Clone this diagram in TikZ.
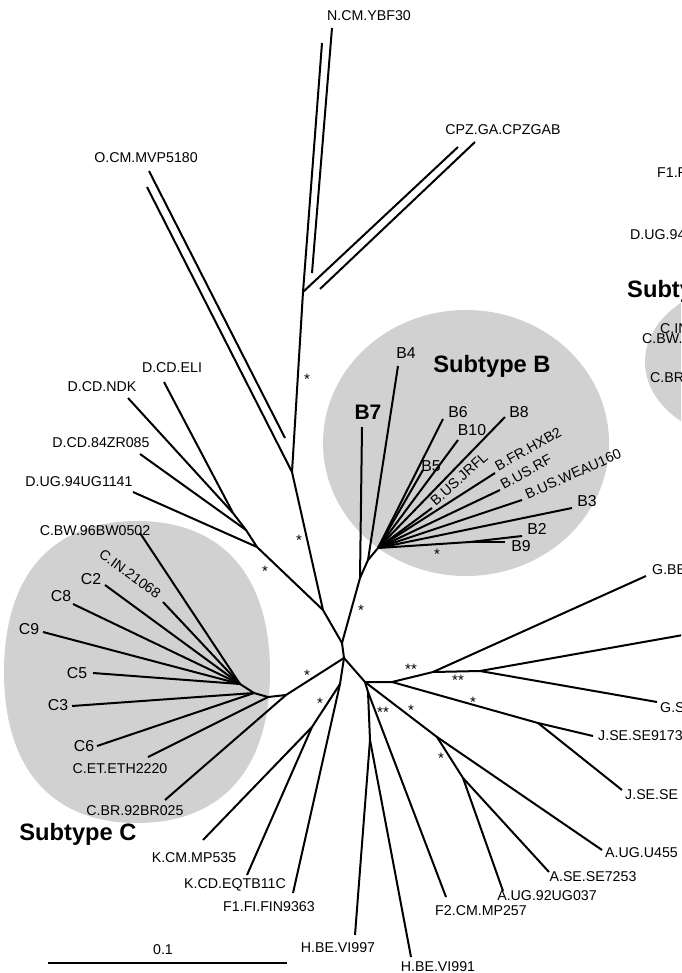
\documentclass[tikz,border=0pt]{standalone}
\usepackage{fontspec}
\setmainfont{Liberation Sans}
\begin{document}
\begin{tikzpicture}[x=1pt,y=-1pt,
  br/.style={line width=2pt, line join=round},
  lbl/.style={inner sep=0pt, font=\fontsize{14.2}{14.2}\selectfont},
  lbm/.style={inner sep=0pt, font=\fontsize{15.8}{15.8}\selectfont},
  big/.style={inner sep=0pt, font=\bfseries\fontsize{23.7}{23.7}\selectfont},
  ast/.style={inner sep=0pt, anchor=base, yshift=-8.5pt, font=\fontsize{15}{15}\selectfont},
  blob/.style={fill=black!18}]
\clip (0,0) rectangle (681,973);
\fill[white] (0,0) rectangle (681,973);
% shaded groups
\fill[blob] (466,443) ellipse [x radius=143, y radius=133];
\fill[blob] (270,672) .. controls (270,575.4) and (222.1,521) .. (137,521)
  .. controls (51.9,521) and (4,575.4) .. (4,672)
  .. controls (4,768.6) and (51.9,823) .. (137,823)
  .. controls (222.1,823) and (270,768.6) .. (270,672) -- cycle;
\fill[blob] (755,362) ellipse [x radius=110, y radius=80];

% ---------- inner nodes ----------
\coordinate (N3) at (344,658);
\coordinate (N2) at (342,643);
\coordinate (N1) at (323,610);
\coordinate (Tup) at (292,472);
\coordinate (Tn) at (303,292);
\coordinate (D3) at (257,547);
\coordinate (D2) at (246,530);
\coordinate (D1) at (233,513);
\coordinate (Bn1) at (360,578);
\coordinate (Bn2) at (368,560);
\coordinate (Bf) at (378,548);
\coordinate (Bb) at (470,542);
\coordinate (S) at (286,695);
\coordinate (Cc) at (268,697);
\coordinate (Cd) at (254,693);
\coordinate (Ce) at (240,684);
\coordinate (N4) at (340,684);
\coordinate (Kn) at (312,727);
\coordinate (R1) at (365,682);
\coordinate (R2) at (392,682);
\coordinate (G1) at (433,672);
\coordinate (G2) at (480,671);
\coordinate (Jn) at (538,723);
\coordinate (An) at (437,737);
\coordinate (A2) at (463,778);
\coordinate (R3) at (368,692);
\coordinate (Hn) at (370,740);

% ---------- tips ----------
\coordinate (tO) at (147,187);
\coordinate (tOa) at (149,171); \coordinate (tOb) at (285,438);
\coordinate (tN) at (322,43);
\coordinate (tNa) at (332,28); \coordinate (tNb) at (312,273);
\coordinate (tP) at (458,147);
\coordinate (tPa) at (475,142); \coordinate (tPb) at (320,289);
\coordinate (tELI) at (164,382);
\coordinate (tNDK) at (128,398);
\coordinate (t84) at (140,454);
\coordinate (t94) at (133,492);
\coordinate (tB7) at (362,427);
\coordinate (tB4) at (398,366);
\coordinate (tB6) at (443,419);
\coordinate (tB10) at (458,440);
\coordinate (tB5) at (423,470);
\coordinate (tB8) at (505,417);
\coordinate (tJRFL) at (432,508);
\coordinate (tHXB) at (495,473);
\coordinate (tRF) at (500,490);
\coordinate (tWE) at (522,500);
\coordinate (tB3) at (572,508);
\coordinate (tB2) at (522,536);
\coordinate (tB9) at (505,542);
\coordinate (tCBR) at (165,800);
\coordinate (tCET) at (148,757);
\coordinate (tC3) at (72,706);
\coordinate (tC6) at (97,746);
\coordinate (tC5) at (93,673);
\coordinate (tC9) at (43,632);
\coordinate (tC8) at (73,604);
\coordinate (tC2) at (105,585);
\coordinate (tCIN) at (163,602);
\coordinate (tCBW) at (140,533);
\coordinate (tKCM) at (203,840);
\coordinate (tKCD) at (247,875);
\coordinate (tF1) at (293,893);
\coordinate (tGBE) at (646,576);
\coordinate (tGX) at (700,632);
\coordinate (tGS) at (657,702);
\coordinate (tJ1) at (593,736);
\coordinate (tJ2) at (622,790);
\coordinate (tA1) at (602,850);
\coordinate (tA2) at (549,872);
\coordinate (tA3) at (503,891);
\coordinate (tH1) at (355,935);
\coordinate (tH2) at (411,957);
\coordinate (tF2) at (446,897);
\coordinate (sb1) at (48,963);
\coordinate (sb2) at (287,963);

% ---------- branches ----------
\draw[br] (N3) -- (N2) -- (N1) -- (Tup) -- (Tn) -- (tN);
\draw[br] (Tn) -- (tP);
\draw[br] (Tup) -- (tO);
\draw[br] (tOa) -- (tOb);
\draw[br] (tNa) -- (tNb);
\draw[br] (tPa) -- (tPb);
\draw[br] (N1) -- (D3) -- (D2) -- (D1) -- (tELI);
\draw[br] (D1) -- (tNDK);
\draw[br] (D2) -- (t84);
\draw[br] (D3) -- (t94);
% subtype B
\draw[br] (N2) -- (Bn1) -- (Bn2) -- (Bf);
\draw[br] (Bn1) -- (tB7);
\draw[br] (Bn2) -- (tB4);
\foreach \t in {tB6,tB10,tB5,tB8,tJRFL,tHXB,tRF,tWE,tB3}
  \draw[br] (Bf) -- (\t);
\draw[br] (Bf) -- (Bb) -- (tB2);
\draw[br] (Bb) -- (tB9);
% subtype C
\draw[br] (N3) -- (S) -- (tCBR);
\draw[br] (S) -- (Cc) -- (tCET);
\draw[br] (Cc) -- (Cd) -- (tC3);
\draw[br] (Cd) -- (tC6);
\draw[br] (Cd) -- (Ce);
\foreach \t in {tC5,tC9,tC8,tC2,tCIN,tCBW}
  \draw[br] (Ce) -- (\t);
% K, F1
\draw[br] (N3) -- (N4) -- (Kn) -- (tKCM);
\draw[br] (Kn) -- (tKCD);
\draw[br] (N4) -- (tF1);
% right part
\draw[br] (N3) -- (R1) -- (R2) -- (G1) -- (tGBE);
\draw[br] (G1) -- (G2) -- (tGX);
\draw[br] (G2) -- (tGS);
\draw[br] (R2) -- (Jn) -- (tJ1);
\draw[br] (Jn) -- (tJ2);
\draw[br] (R1) -- (An) -- (tA1);
\draw[br] (An) -- (A2) -- (tA2);
\draw[br] (A2) -- (tA3);
\draw[br] (R1) -- (R3) -- (Hn) -- (tH1);
\draw[br] (Hn) -- (tH2);
\draw[br] (R3) -- (tF2);
% scale bar
\draw[br] (sb1) -- (sb2);

% ---------- labels ----------
\node[lbl] (lN) at (369,16) {N.CM.YBF30};
\node[lbl] (lP) at (503,130) {CPZ.GA.CPZGAB};
\node[lbl] (lO) at (146,158) {O.CM.MVP5180};
\node[lbl] (lELI) at (172,368) {D.CD.ELI};
\node[lbl] (lNDK) at (102,387) {D.CD.NDK};
\node[lbl] (l84) at (101,443) {D.CD.84ZR085};
\node[lbl] (l94) at (79,482) {D.UG.94UG1141};
\node[lbl] (lCBW) at (95,531) {C.BW.96BW0502};
\node[lbl, rotate=-36] (lCIN) at (130,574) {C.IN.21068};
\node[lbm] (lC2) at (91,579) {C2};
\node[lbm] (lC8) at (61,596) {C8};
\node[lbm] (lC9) at (29,629) {C9};
\node[lbm] (lC5) at (77,673) {C5};
\node[lbm] (lC3) at (58,705) {C3};
\node[lbm] (lC6) at (84,746) {C6};
\node[lbl] (lCET) at (120,769) {C.ET.ETH2220};
\node[lbl] (lCBR) at (135,811) {C.BR.92BR025};
\node[big, anchor=base] (lSC) at (78,840) {Subtype C};
\node[lbl] (lKCM) at (194,858) {K.CM.MP535};
\node[lbl] (lKCD) at (235,885) {K.CD.EQTB11C};
\node[lbl] (lF1) at (269,907) {F1.FI.FIN9363};
\node[lbl] (lsb) at (163,950) {0.1};
\node[lbl] (lH1) at (338,948) {H.BE.VI997};
\node[lbl] (lH2) at (438,967) {H.BE.VI991};
\node[lbl] (lF2) at (481,911) {F2.CM.MP257};
\node[lbl] (lA3) at (547,896) {A.UG.92UG037};
\node[lbl] (lA2) at (593,877) {A.SE.SE7253};
\node[lbl, anchor=west] (lA1) at (605,853) {A.UG.U455};
\node[lbl, anchor=west] (lJ2) at (625,795) {J.SE.SE};
\node[lbl, anchor=west] (lJ1) at (598,736) {J.SE.SE9173};
\node[lbl, anchor=west] (lGS) at (660,708) {G.S};
\node[lbl, anchor=west] (lGBE) at (652,570) {G.BE};
% cut-off panel at the right edge
\node[lbl, anchor=west] (rF1) at (657,173) {F1.F};
\node[lbl, anchor=west] (rD) at (630,235) {D.UG.94};
\node[big, anchor=base west] (rS) at (627,297) {Subty};
\node[lbl, anchor=west] (rCIN) at (660,329) {C.IN};
\node[lbl, anchor=west] (rCBW) at (642,339) {C.BW.};
\node[lbl, anchor=west] (rCBR) at (650,378) {C.BR};
% subtype B labels
\node[big, anchor=base] (lSB) at (492,372) {Subtype B};
\node[lbm] (lB4) at (406,353) {B4};
\node[inner sep=0pt, font=\bfseries\fontsize{21}{21}\selectfont] (lB7) at (368,412) {B7};
\node[lbm] (lB6) at (458,412) {B6};
\node[lbm] (lB10) at (472,430) {B10};
\node[lbm] (lB5) at (431,466) {B5};
\node[lbm] (lB8) at (519,412) {B8};
\node[lbl, rotate=42] (lJRFL) at (459,479) {B.US.JRFL};
\node[lbl, rotate=29] (lHXB) at (528,449) {B.FR.HXB2};
\node[lbl, rotate=29] (lRF) at (526,472) {B.US.RF};
\node[lbl, rotate=24] (lWE) at (573,474) {B.US.WEAU160};
\node[lbm] (lB3) at (587,501) {B3};
\node[lbm] (lB2) at (537,529) {B2};
\node[lbm] (lB9) at (521,546) {B9};

% ---------- support marks ----------
\node[ast] (s1) at (307,376) {*};
\node[ast] (s2) at (299,537) {*};
\node[ast] (s3) at (265,568) {*};
\node[ast] (s4) at (361,607) {*};
\node[ast] (s5) at (437,551) {*};
\node[ast] (s6) at (307,672) {*};
\node[ast] (s7) at (320,700) {*};
\node[ast] (s8) at (411,666) {**};
\node[ast] (s9) at (458,677) {**};
\node[ast] (s10) at (473,699) {*};
\node[ast] (s11) at (383,709) {**};
\node[ast] (s12) at (411,707) {*};
\node[ast] (s13) at (441,755) {*};
\end{tikzpicture}
\end{document}
